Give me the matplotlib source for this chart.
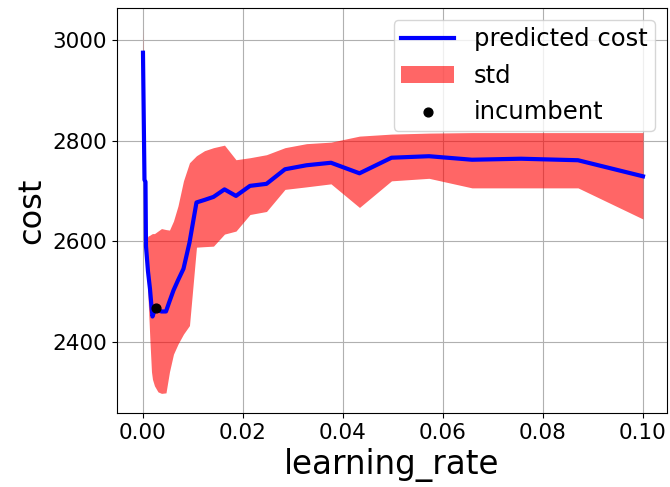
import matplotlib
matplotlib.use("Agg")
import matplotlib.pyplot as plt

# learning-rate samples and model predictions
learning_rate = [0.0000, 0.0003, 0.0005, 0.0006, 0.0010, 0.0014, 0.0017, 0.0019,
                 0.0023, 0.0030, 0.0037, 0.0046, 0.0053, 0.0061, 0.0070, 0.0081,
                 0.0093, 0.0107, 0.0123, 0.0141, 0.0163, 0.0186, 0.0214, 0.0247,
                 0.0284, 0.0327, 0.0376, 0.0433, 0.0497, 0.0572, 0.0658, 0.0756,
                 0.0870, 0.1000]
predicted_cost = [2975, 2722, 2718, 2590, 2540, 2505, 2470, 2450,
                  2462, 2462, 2460, 2460, 2480, 2502, 2522, 2545,
                  2597, 2677, 2682, 2688, 2703, 2690, 2710, 2714,
                  2743, 2751, 2756, 2735, 2766, 2769, 2762, 2764,
                  2761, 2729]
upper = [3027, 2740, 2735, 2600, 2610, 2612, 2614, 2615,
         2615, 2620, 2625, 2623, 2622, 2640, 2670, 2720,
         2756, 2770, 2780, 2786, 2791, 2762, 2766, 2772,
         2786, 2794, 2797, 2809, 2813, 2815, 2816, 2816,
         2816, 2816]
lower = [2925, 2705, 2700, 2580, 2490, 2400, 2340, 2325,
         2312, 2300, 2297, 2298, 2340, 2375, 2395, 2415,
         2432, 2588, 2589, 2590, 2614, 2620, 2653, 2659,
         2703, 2708, 2714, 2667, 2720, 2725, 2706, 2706,
         2706, 2644]
incumbent_lr = [0.0027]
incumbent_cost = [2467]

fig = plt.figure(figsize=(6.7, 4.87), dpi=100)
ax = fig.add_axes([0.1746, 0.152, 0.8209, 0.8316])

ax.plot(learning_rate, predicted_cost, color="blue", linewidth=3, label="predicted cost", zorder=3)
ax.fill_between(learning_rate, lower, upper, color="red", alpha=0.6, linewidth=0, label="std", zorder=2)
ax.scatter(incumbent_lr, incumbent_cost, color="black", s=40, label="incumbent", zorder=4)

ax.set_xlim(-0.0052, 0.1048)
ax.set_ylim(2258, 3064)
ax.set_xticks([0.00, 0.02, 0.04, 0.06, 0.08, 0.10])
ax.set_yticks([2400, 2600, 2800, 3000])
ax.tick_params(labelsize=15.5)
ax.grid(True, color="#b0b0b0", linewidth=0.8)
ax.set_axisbelow(True)

ax.set_xlabel("learning_rate", fontsize=23.5)
ax.set_ylabel("cost", fontsize=23)
ax.legend(loc="upper right", fontsize=17.5, labelspacing=0.5, borderpad=0.3,
          handlelength=2.2, borderaxespad=0.5)

fig.savefig("out.png", dpi=100)
